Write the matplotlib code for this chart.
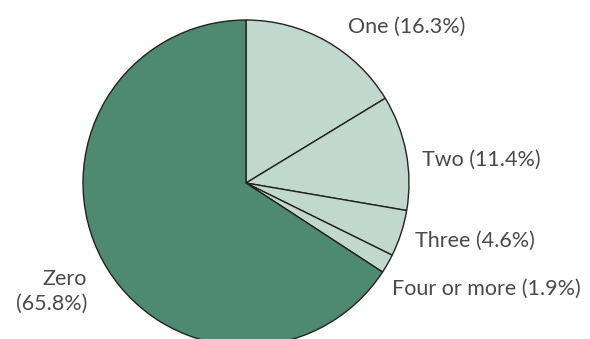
import matplotlib
matplotlib.use("Agg")
import matplotlib.pyplot as plt

categories = ["One", "Two", "Three", "Four or more", "Zero"]
shares = [16.3, 11.4, 4.6, 1.9, 65.8]
label_texts = ["One (16.3%)", "Two (11.4%)", "Three (4.6%)", "Four or more (1.9%)", "Zero\n(65.8%)"]

light = "#c1d8ce"
dark = "#4d8a71"
colors = [light, light, light, light, dark]

W, H = 590, 339
fig = plt.figure(figsize=(W / 100, H / 100), dpi=100)
ax = fig.add_axes([0, 0, 1, 1])

ax.pie(shares, colors=colors, startangle=90, counterclock=False,
       center=(246, H - 183), radius=163,
       wedgeprops=dict(edgecolor="#222222", linewidth=1.0), frame=True)
ax.set_xlim(0, W)
ax.set_ylim(0, H)
ax.set_aspect("equal")
ax.axis("off")

# label anchors in pixel space (x, y from top), with alignment
anchors = [(348, 27, "left"), (422, 160, "left"), (415, 241, "left"),
           (392, 289, "left"), (87, 291, "right")]
for txt, (x, y, ha) in zip(label_texts, anchors):
    ax.text(x, H - y, txt, ha=ha, va="center", fontsize=15.5, color="#4a4a4a",
            family="Lato", multialignment=ha, linespacing=1.3)

fig.savefig("out.png", dpi=100)
